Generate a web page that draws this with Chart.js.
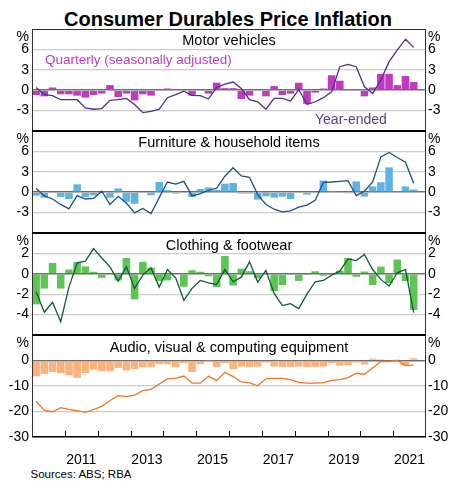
<!DOCTYPE html>
<html><head><meta charset="utf-8">
<script src="https://cdn.jsdelivr.net/npm/chart.js@4.4.1/dist/chart.umd.min.js"></script>
<style>
body{margin:0;background:#fff;width:456px;height:481px;overflow:hidden;position:relative;font-family:"Liberation Sans",Arial,sans-serif;}
canvas{position:absolute;left:0;}
.t{position:absolute;white-space:nowrap;}
</style></head><body>
<div class="t" style="left:0;width:456px;text-align:center;top:7.6px;font-size:20px;line-height:22px;font-weight:bold;color:#000">Consumer Durables Price Inflation</div>
<div class="t" style="left:32px;width:394px;text-align:center;top:32.4px;font-size:14.5px;line-height:16px;color:#000;z-index:5">Motor vehicles</div>
<div class="t" style="left:32px;width:394px;text-align:center;top:134px;font-size:14.5px;line-height:16px;color:#000;z-index:5">Furniture &amp; household items</div>
<div class="t" style="left:32px;width:394px;text-align:center;top:237px;font-size:14.5px;line-height:16px;color:#000;z-index:5">Clothing &amp; footwear</div>
<div class="t" style="left:32px;width:394px;text-align:center;top:338.5px;font-size:14.5px;line-height:16px;color:#000;z-index:5">Audio, visual &amp; computing equipment</div>
<div class="t" style="left:45px;top:52.4px;font-size:13.5px;line-height:16px;color:#BE3BBF;z-index:5">Quarterly (seasonally adjusted)</div>
<div class="t" style="left:315px;top:111px;font-size:14px;line-height:16px;color:#5A3C94;z-index:5">Year-ended</div>
<div class="t" style="left:30.5px;top:467.3px;font-size:11.5px;line-height:14px;color:#000">Sources: ABS; RBA</div>
<script>
// ---- Data (quarterly, per cent) ----
const quarters = ['Mar-10','Jun-10','Sep-10','Dec-10','Mar-11','Jun-11','Sep-11','Dec-11','Mar-12','Jun-12','Sep-12','Dec-12',
  'Mar-13','Jun-13','Sep-13','Dec-13','Mar-14','Jun-14','Sep-14','Dec-14','Mar-15','Jun-15','Sep-15','Dec-15',
  'Mar-16','Jun-16','Sep-16','Dec-16','Mar-17','Jun-17','Sep-17','Dec-17','Mar-18','Jun-18','Sep-18','Dec-18',
  'Mar-19','Jun-19','Sep-19','Dec-19','Mar-20','Jun-20','Sep-20','Dec-20','Mar-21','Jun-21','Sep-21'];
const yearLabels = ['2011','2013','2015','2017','2019','2021'];

const motorQ = [-0.7,-0.9,0.4,-0.6,-0.6,-0.8,-1.1,-0.7,-0.5,0.75,-1.0,-0.5,-1.5,-0.6,-0.8,-0.1,0.25,0.1,0.1,-0.8,-0.1,-0.5,1.1,0.3,0.3,-1.3,-0.8,-0.1,-0.9,0.6,-0.7,-0.5,1.1,-2.0,-0.35,0.25,2.2,1.4,0.1,-0.1,-0.9,0.4,2.4,2.4,0.75,2.1,1.2];
const motorY = [0.4,-0.65,-0.8,-1.4,-1.4,-1.4,-2.6,-2.8,-2.7,-1.5,-1.4,-1.2,-2.1,-3.3,-3.1,-2.8,-1.1,-0.65,-0.15,-0.75,-0.8,-1.3,0.4,0.9,1.2,0.25,-1.4,-1.7,-2.8,-1.2,-1.2,-1.6,0.1,-2.1,-1.7,-1.1,-0.25,3.45,3.8,3.45,0.5,-0.5,1.5,4.2,5.9,7.5,6.3];

const furnQ = [-0.5,-0.8,-0.1,-0.7,-1.0,1.15,-0.7,-0.45,-0.1,-0.8,0.55,-1.4,-1.7,0,-0.45,1.5,0.3,-0.2,0,-0.7,0.45,0.7,0.3,1.25,1.35,-0.2,-0.2,-1.1,-0.6,-0.8,-0.65,-1.0,0,-0.35,0,1.7,0.05,0.1,-0.15,1.6,-0.65,0.85,1.45,3.65,0.05,0.85,0.4];
const furnY = [0.55,-0.55,-1.0,-1.8,-2.45,-0.5,-1.0,-0.9,0.15,-1.8,-0.6,-1.6,-3.05,-2.4,-3.15,-0.8,1.5,1.2,1.6,-0.55,-0.2,0.25,0.6,2.35,3.6,2.4,2.2,-0.35,-1.8,-2.5,-2.9,-2.75,-2.2,-1.9,-1.2,1.45,1.5,1.6,1.7,-0.5,0.15,1.5,5.2,5.85,5.1,4.4,1.3];

const clothQ = [-3.0,-1.45,1.07,-1.45,0.42,1.15,0.72,0.2,-0.4,-0.05,-0.65,1.55,-2.5,1.17,0.6,-0.7,-0.65,0,-1.27,0.35,0.2,-0.25,-1.3,1.75,-1.15,0.5,0.25,-0.45,0,-1.7,-1.1,-0.05,-0.7,-0.05,0.25,-0.2,0,0.3,1.55,-0.3,0.22,-1.1,0.7,-0.9,1.4,-0.72,-3.55];
const clothY = [-1.75,-3.77,-2.8,-4.7,-1.3,1.07,1.25,2.47,1.55,0.68,-0.72,0.68,-1.43,-0.13,0.58,-1.3,0.42,-0.4,-2.6,-1.43,-0.65,-0.88,-1.04,0.42,-0.78,-0.33,1.17,-0.81,0.33,-1.92,-3.12,-2.93,-3.41,-2.0,-0.78,-0.65,-0.13,0.26,1.46,1.3,1.89,0.42,-0.55,-1.2,0.1,0.42,-3.8];

const audioQ = [-6.2,-5.3,-4.5,-5.0,-5.8,-6.8,-4.9,-3.6,-4.2,-4.2,-2.9,-3.9,-3.4,-2.6,-2.6,-1.45,-1.45,-2.6,-1.05,-4.5,-1.45,-0.1,-2.5,-1.05,-3.4,-2.4,-2.6,-2.4,-0.8,-2.4,-2.6,-2.5,-2.4,-2.6,-2.5,-2.4,-1.05,-2.0,-1.8,-0.8,-1.6,0.8,0.5,-0.4,0.4,-2.0,0.9];
const audioY = [-16,-19.6,-20.1,-18.5,-19.2,-19.7,-20.3,-19.3,-18.0,-15.7,-13.8,-14.2,-13.6,-11.8,-11.3,-9.2,-7.2,-7.0,-6.1,-8.9,-8.9,-6.2,-7.8,-4.6,-6.3,-8.4,-8.8,-9.9,-7.2,-7.0,-7.0,-7.5,-8.6,-8.9,-8.9,-8.7,-7.8,-7.5,-6.7,-5.0,-5.4,-2.9,-0.4,-0.4,0,-2.0,-1.8];

const motorTicks = [-6,-3,0,3,6,9];
const furnTicks = [-6,-3,0,3,6,9];
const clothTicks = [-6,-4,-2,0,2,4];
const audioTicks = [-30,-20,-10,0,10];

// ---- Layout / style ----
const FONT = '"Liberation Sans", Arial, sans-serif';
Chart.defaults.font.family = FONT;

const panels = [
  {q:motorQ, yr:motorY, ticks:motorTicks, bar:'#BE3BBF', line:'#4F2F8C', top:29, showMin:false},
  {q:furnQ, yr:furnY, ticks:furnTicks, bar:'#5CB4E4', line:'#1D4F8B', top:131, showMin:false},
  {q:clothQ, yr:clothY, ticks:clothTicks, bar:'#5DC553', line:'#0E5A3A', top:233, showMin:false},
  {q:audioQ, yr:audioY, ticks:audioTicks, bar:'#FDB27B', line:'#F47421', top:335, showMin:true}
];

const framePlugin = {
  id:'frame',
  afterDraw(chart, args, o){
    const ctx = chart.ctx, a = chart.chartArea;
    ctx.save();
    ctx.strokeStyle = '#333'; ctx.lineWidth = 1;
    ctx.beginPath();
    ctx.moveTo(a.left+0.5, a.top); ctx.lineTo(a.left+0.5, a.bottom);
    ctx.moveTo(a.right-0.5, a.top); ctx.lineTo(a.right-0.5, a.bottom);
    ctx.stroke();
    if (o.first) {
      ctx.beginPath(); ctx.moveTo(a.left, a.top+0.5); ctx.lineTo(a.right, a.top+0.5); ctx.stroke();
    } else {
      ctx.fillStyle = '#000';
      ctx.fillRect(a.left, a.top-1, a.right-a.left, 2);
    }
    if (o.last) {
      ctx.fillStyle = '#000';
      ctx.fillRect(a.left, a.bottom-1, a.right-a.left, 1.5);
      const xs = chart.scales.x;
      ctx.strokeStyle = '#000'; ctx.lineWidth = 1;
      ctx.beginPath();
      for (let yv = 2011; yv <= 2021; yv++) {
        const px = Math.round(xs.getPixelForValue(yv)) + 0.5;
        ctx.moveTo(px, a.bottom); ctx.lineTo(px, a.bottom-6);
      }
      ctx.stroke();
    }
    ctx.restore();
  }
};

panels.forEach((p, idx) => {
  const isLast = idx === panels.length-1;
  const ctop = p.top - 12;
  const h = isLast ? 481 - ctop : 126;
  const cv = document.createElement('canvas');
  cv.width = 456; cv.height = h;
  cv.style.top = ctop + 'px'; cv.style.width = '456px'; cv.style.height = h + 'px';
  document.body.appendChild(cv);
  const xs = quarters.map((q, i) => 2010 + i*0.25 + 0.125);
  const min = p.ticks[0], max = p.ticks[p.ticks.length-1];
  const lab = (v) => {
    if (v === max) return ['', '%'];
    if (v === min && !p.showMin) return '';
    return String(v);
  };
  const fitY = (w) => (s) => { s.width = w; s.paddingTop = 0; s.paddingBottom = 0; };
  const yCommon = {
    min, max, afterBuildTicks: s => { s.ticks = p.ticks.map(v => ({value:v})); },
    border:{display:false},
    ticks:{callback:lab, autoSkip:false, color:'#000', font:{size:14, family:FONT}, padding:3}
  };
  new Chart(cv, {
    type:'bar',
    data:{datasets:[
      {type:'line', data: xs.map((x,i)=>({x, y:p.yr[i]})), borderColor:p.line, borderWidth:1.3, pointRadius:0, tension:0, order:0},
      {type:'bar', data: xs.map((x,i)=>({x, y:p.q[i]})), backgroundColor:p.bar, borderWidth:0, barPercentage:0.92, categoryPercentage:1, order:1}
    ]},
    options:{
      responsive:false, animation:false, devicePixelRatio:1,
      layout:{padding:{top:12, bottom: isLast ? 14 : 12, left:0, right:0}},
      plugins:{legend:{display:false}, tooltip:{enabled:false}, frame:{first: idx===0, last: isLast}},
      scales:{
        x:{type:'linear', min:2010, max:2022, offset:false, display:isLast,
           grid:{display:false, drawTicks:false, offset:false}, border:{display:false},
           afterBuildTicks: s => { s.ticks = yearLabels.map(l => ({value: +l + 0.5})); },
           ticks:{padding:15, color:'#000', font:{size:14, family:FONT}, maxRotation:0, autoSkip:false,
                  callback:(v,i) => yearLabels[i]},
           afterFit: s => { s.height = isLast ? 30 : 0; s.paddingLeft = 0; s.paddingRight = 0; }},
        y:Object.assign({}, yCommon, {position:'left',
           grid:{drawTicks:false,
             color: c => { const v = c.tick ? c.tick.value : null; if (v===min || v===max) return 'rgba(0,0,0,0)'; return v===0 ? '#6e6e6e' : '#cccccc'; },
             lineWidth: c => (c.tick && c.tick.value===0) ? 1.6 : 1.2},
           afterFit: fitY(32)}),
        y2:Object.assign({}, yCommon, {position:'right', grid:{display:false, drawTicks:false},
           ticks:Object.assign({}, yCommon.ticks, {padding:2}),
           afterFit: fitY(30)})
      }
    },
    plugins:[framePlugin]
  });
});
</script>
</body></html>
